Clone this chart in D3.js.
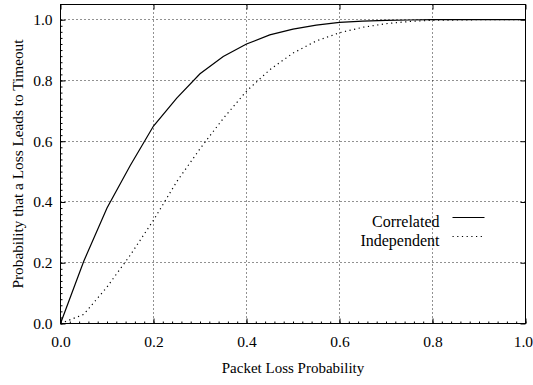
<!DOCTYPE html>
<html>
<head>
<meta charset="utf-8">
<script src="https://cdn.jsdelivr.net/npm/d3@7"></script>
<style>
  body { margin: 0; background: #fff; }
  text { font-family: "Liberation Serif", "Times New Roman", serif; fill: #000; }
</style>
</head>
<body>
<div id="chart"></div>
<script>
// values
let lossProb = [0, 0.05, 0.1, 0.15, 0.2, 0.25, 0.3, 0.35, 0.4, 0.45, 0.5,
                0.55, 0.6, 0.65, 0.7, 0.75, 0.8, 0.85, 0.9, 0.95, 1.0];
let correlated = [0, 0.205, 0.38, 0.52, 0.65, 0.742, 0.822, 0.879, 0.92, 0.95, 0.969,
                  0.982, 0.991, 0.995, 0.998, 0.999, 1, 1, 1, 1, 1];
let independent = [0, 0.03, 0.12, 0.225, 0.34, 0.467, 0.575, 0.675, 0.765, 0.835, 0.89,
                   0.93, 0.957, 0.975, 0.987, 0.994, 0.998, 0.999, 1, 1, 1];
let xTicks = [0, 0.2, 0.4, 0.6, 0.8, 1.0];
let yTicks = [0, 0.2, 0.4, 0.6, 0.8, 1.0];
let seriesNames = ["Correlated", "Independent"];

let margin = {top: 4, right: 8, bottom: 62, left: 60},
    width = 533 - margin.left - margin.right,
    height = 385 - margin.top - margin.bottom;

let x = d3.scaleLinear().domain([0, 1]).range([0, width]);
let y = d3.scaleLinear().domain([0, 1.05]).range([height, 0]);

let svg = d3.select("#chart")
            .append("svg")
            .attr("width", 533)
            .attr("height", 385)
            .append("g")
            .attr("transform", "translate(" + (margin.left + 0.5) + "," + (margin.top + 0.5) + ")");

// dotted grid
svg.selectAll(".vgrid")
   .data(xTicks.filter(d => d > 0 && d < 1))
   .enter().append("line")
   .attr("x1", d => Math.round(x(d))).attr("x2", d => Math.round(x(d)))
   .attr("y1", 0).attr("y2", height)
   .attr("stroke", "#222").attr("stroke-width", 1)
   .attr("stroke-dasharray", "1,3");

svg.selectAll(".hgrid")
   .data(yTicks.filter(d => d > 0))
   .enter().append("line")
   .attr("x1", 0).attr("x2", width)
   .attr("y1", d => Math.round(y(d))).attr("y2", d => Math.round(y(d)))
   .attr("stroke", "#222").attr("stroke-width", 1)
   .attr("stroke-dasharray", "1,3");

// minor ticks on left and bottom
let minor = d3.range(0, 1.0001, 0.02);
svg.append("g")
   .attr("transform", "translate(0," + height + ")")
   .call(d3.axisBottom(x).tickValues(minor).tickSize(-2).tickFormat(""))
   .call(g => g.select(".domain").remove());
svg.append("g")
   .call(d3.axisLeft(y).tickValues(minor).tickSize(-2).tickFormat(""))
   .call(g => g.select(".domain").remove());

// major ticks with labels
let xAxis = svg.append("g")
   .attr("transform", "translate(0," + height + ")")
   .call(d3.axisBottom(x).tickValues(xTicks).tickSize(-5).tickPadding(12).tickFormat(d3.format(".1f")));
let yAxis = svg.append("g")
   .call(d3.axisLeft(y).tickValues(yTicks).tickSize(-5).tickPadding(8).tickFormat(d3.format(".1f")));
[xAxis, yAxis].forEach(g => {
  g.select(".domain").remove();
  g.selectAll("text").style("font-size", "15.5px").style("font-family", "'Liberation Serif', serif");
});
// last x label sits right at the window edge
xAxis.selectAll("text").filter(d => d == 1).attr("text-anchor", "end").attr("x", 7);

// mirrored major ticks on top and right
svg.append("g")
   .call(d3.axisTop(x).tickValues(xTicks).tickSize(-5).tickFormat(""))
   .call(g => g.select(".domain").remove());
svg.append("g")
   .attr("transform", "translate(" + width + ",0)")
   .call(d3.axisRight(y).tickValues(yTicks).tickSize(-5).tickFormat(""))
   .call(g => g.select(".domain").remove());

// frame
svg.append("rect")
   .attr("x", 0).attr("y", 0)
   .attr("width", width).attr("height", height)
   .attr("fill", "none").attr("stroke", "#000").attr("stroke-width", 1);

// curves
let line = d3.line()
             .x(d => x(d[0]))
             .y(d => y(d[1]));

svg.append("path")
   .datum(lossProb.map((p, i) => [p, correlated[i]]))
   .attr("d", line)
   .attr("fill", "none").attr("stroke", "#000").attr("stroke-width", 1.2);

svg.append("path")
   .datum(lossProb.map((p, i) => [p, independent[i]]))
   .attr("d", line)
   .attr("fill", "none").attr("stroke", "#000").attr("stroke-width", 1.2)
   .attr("stroke-dasharray", "1.2,3.5");

// legend
let legend = svg.append("g").attr("transform", "translate(379,222)");
seriesNames.forEach(function(name, i) {
  legend.append("text")
        .attr("x", 0).attr("y", i * 19)
        .attr("text-anchor", "end")
        .style("font-size", "16px")
        .text(name);
  legend.append("line")
        .attr("x1", 13).attr("x2", 45)
        .attr("y1", i * 19 - 9).attr("y2", i * 19 - 9)
        .attr("stroke", "#000").attr("stroke-width", 1.2)
        .attr("stroke-dasharray", i == 0 ? null : "1.2,3.5");
});

// axis titles
svg.append("text")
   .attr("text-anchor", "middle")
   .attr("x", width / 2)
   .attr("y", height + 49)
   .style("font-size", "15px")
   .text("Packet Loss Probability");

svg.append("text")
   .attr("text-anchor", "middle")
   .attr("transform", "rotate(-90)")
   .attr("x", -y(0.525))
   .attr("y", -38)
   .style("font-size", "15.3px")
   .text("Probability that a Loss Leads to Timeout");
</script>
</body>
</html>
